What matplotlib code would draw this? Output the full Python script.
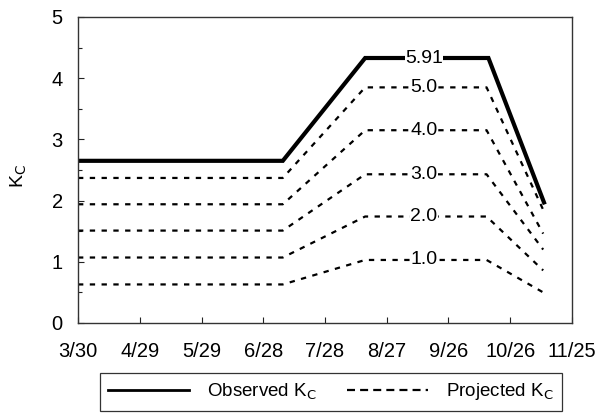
import matplotlib
matplotlib.use("Agg")
import matplotlib.pyplot as plt
from matplotlib.lines import Line2D
from matplotlib.ticker import MultipleLocator

plt.rcParams['font.family'] = ['Liberation Sans', 'DejaVu Sans']

# days after 3/30
obs_days = [0, 99.5, 139.5, 199.4, 226.4]
obs_kc = [2.65, 2.65, 4.33, 4.33, 1.97]

proj_days = [0, 99.5, 139.5, 198.5, 226.0]
proj_labels = ["5.0", "4.0", "3.0", "2.0", "1.0"]
proj_kc = [
    [2.37, 2.37, 3.85, 3.85, 1.85],
    [1.94, 1.94, 3.15, 3.15, 1.46],
    [1.51, 1.51, 2.43, 2.43, 1.20],
    [1.07, 1.07, 1.74, 1.74, 0.86],
    [0.63, 0.63, 1.03, 1.03, 0.50],
]
obs_label = "5.91"
label_day = 168

tick_days = [0, 30, 60, 90, 120, 150, 180, 210, 240]
tick_labels = ["3/30", "4/29", "5/29", "6/28", "7/28", "8/27", "9/26", "10/26", "11/25"]

fig = plt.figure(figsize=(5.97, 4.18), dpi=100)
ax = fig.add_axes([78/597, 1-323/418, 494/597, 306/418])

ax.plot(obs_days, obs_kc, color='black', lw=3.0, solid_joinstyle='miter')
for vals in proj_kc:
    ax.plot(proj_days, vals, color='black', lw=1.6, dashes=(2.4, 2.9))

bbox = dict(facecolor='white', edgecolor='none', pad=0.2)
ax.text(label_day, obs_kc[2], obs_label, ha='center', va='center', fontsize=14, bbox=bbox)
for lab, vals in zip(proj_labels, proj_kc):
    ax.text(label_day, vals[2], lab, ha='center', va='center', fontsize=14, bbox=bbox)

ax.set_xlim(0, 240)
ax.set_ylim(0, 5)
ax.set_xticks(tick_days)
ax.set_xticklabels(tick_labels)
ax.yaxis.set_major_locator(MultipleLocator(1))
ax.yaxis.set_minor_locator(MultipleLocator(0.5))
ax.tick_params(axis='both', which='major', direction='in', length=4, width=0.8,
               labelsize=14.5, colors='#222222', labelcolor='black')
ax.tick_params(axis='x', pad=14)
ax.tick_params(axis='y', pad=11)
ax.tick_params(axis='y', which='minor', direction='in', length=3, width=0.8, colors='#222222')
for s in ax.spines.values():
    s.set_color('#333333')
    s.set_linewidth(1.0)

ax.set_ylabel("K$_\\mathrm{C}$", fontsize=14)
ax.yaxis.set_label_coords(-0.10, 0.48)

handles = [Line2D([], [], color='black', lw=2.0),
           Line2D([], [], color='black', lw=1.6, dashes=(3.6, 2.3))]
leg = fig.legend(handles, ["Observed K$_\\mathrm{C}$", "Projected K$_\\mathrm{C}$"],
                 loc='center', bbox_to_anchor=(331/597, 1-392/418), ncol=2,
                 fontsize=13.5, frameon=True, fancybox=False, edgecolor='black',
                 handlelength=4.3, handletextpad=1.0, columnspacing=1.6,
                 borderpad=0.45)
leg.get_frame().set_linewidth(0.9)

fig.savefig("out.png", dpi=100)
